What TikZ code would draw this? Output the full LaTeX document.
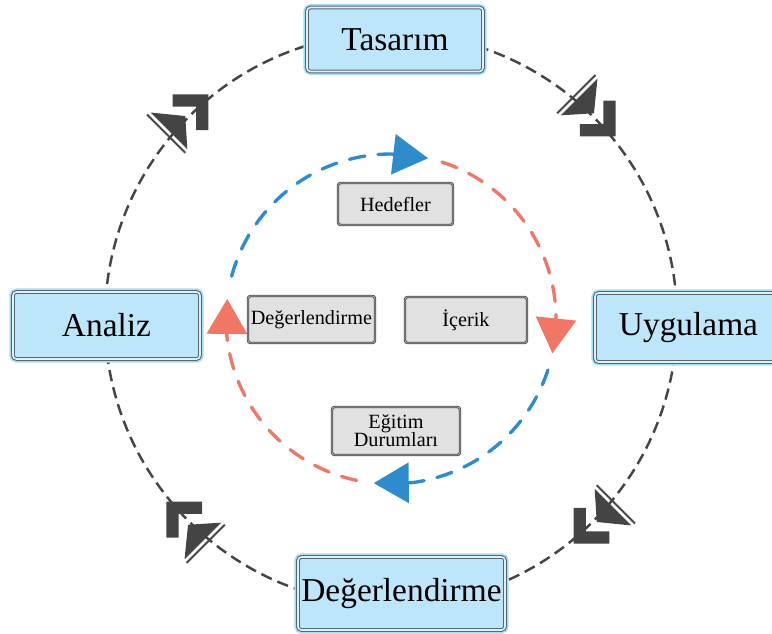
\documentclass[tikz,border=0pt]{standalone}
\usepackage{fontspec}
\setmainfont{Liberation Serif}
\usetikzlibrary{arrows.meta, decorations.markings}
\definecolor{boxblue}{HTML}{BDE6FA}
\definecolor{boxglow}{HTML}{A8DCF5}
\definecolor{boxline}{HTML}{56656E}
\definecolor{graybox}{HTML}{E1E1E1}
\definecolor{ringgray}{HTML}{444444}
\definecolor{flowblue}{HTML}{2E8CCC}
\definecolor{flowred}{HTML}{F07666}
\newcommand{\tightlines}{\lineskiplimit=-10pt\relax}

\begin{document}
\begin{tikzpicture}[
  phase/.style={rounded corners=2pt, fill=boxblue, draw=boxline, line width=0.6pt,
    double=boxblue!50!white, double distance=0.9pt, preaction={draw=boxglow, line width=4pt},
    font=\fontsize{19}{21}\selectfont, inner sep=0pt},
  part/.style={rounded corners=1.5pt, fill=graybox, draw=black!70, line width=0.5pt,
    double=black!30, double distance=0.4pt, font=\fontsize{11.5}{10.3}\selectfont\tightlines,
    inner sep=0pt, align=center},
  ring/.style={draw=ringgray, line width=1.4pt, dash pattern=on 6.5pt off 3.5pt,
    postaction={decorate}, decoration={markings, mark=at position 0.5 with {\pic[transform shape]{turn};}}},
  flow/.style={line width=1.9pt, dash pattern=on 9pt off 7.5pt, line cap=round,
    -{Triangle[length=0.7cm, width=0.8cm]}},
  turn/.pic={
    \begin{scope}[x=0.02cm, y=0.02cm, solid]
    \fill[ringgray] (-24,30) -- (-24,-22) -- (-2,3) -- cycle;
    \draw[ringgray, line width=1.1pt] (-28,31) -- (-28,-23);
    \draw[ringgray, line width=7pt, miter limit=4] (0,23) -- (21,2) -- (0,-19);
    \end{scope}
  }
]
\useasboundingbox (-7.82,-6.28) rectangle (7.62,6.38);
\coordinate (c) at (0,0);

% outer cycle
\foreach \a in {180,90,0,-90}
  \draw[ring] (\a:5.72) arc[start angle=\a, end angle=\a-90, radius=5.72];

% inner cycle
\draw[flow, flowblue] (165:3.3) arc[start angle=165, end angle=90, radius=3.3] -- (77:3.3);
\draw[flow, flowred] (72:3.3) arc[start angle=72, end angle=0, radius=3.3] -- (-12:3.3);
\draw[flow, flowblue] (-18:3.3) arc[start angle=-18, end angle=-83, radius=3.3] -- (-96:3.3);
\draw[flow, flowred] (-102:3.3) arc[start angle=-102, end angle=-174, radius=3.3] -- (-187:3.3);

\node[phase, minimum width=3.52cm, minimum height=1.28cm] (tasarim) at (0.08,5.59) {Tasarım};
\node[phase, minimum width=3.74cm, minimum height=1.34cm] (analiz) at (-5.69,-0.13) {Analiz};
\node[phase, minimum width=3.74cm, minimum height=1.38cm] (uygulama) at (5.95,-0.17) {Uygulama};
\node[phase, minimum width=4.14cm, minimum height=1.46cm] (degerlendirme) at (0.21,-5.49) {Değerlendirme};

\node[part, minimum width=2.3cm, minimum height=0.84cm] (hedefler) at (0.09,2.30) {Hedefler};
\node[part, minimum width=2.54cm, minimum height=0.94cm] (olcme) at (-1.59,-0.01) {Değerlendirme};
\node[part, minimum width=2.44cm, minimum height=0.92cm] (icerik) at (1.50,-0.02) {İçerik};
\node[part, minimum width=2.56cm, minimum height=0.96cm] (egitim) at (0.10,-2.24) {Eğitim\\Durumları};
\end{tikzpicture}
\end{document}
